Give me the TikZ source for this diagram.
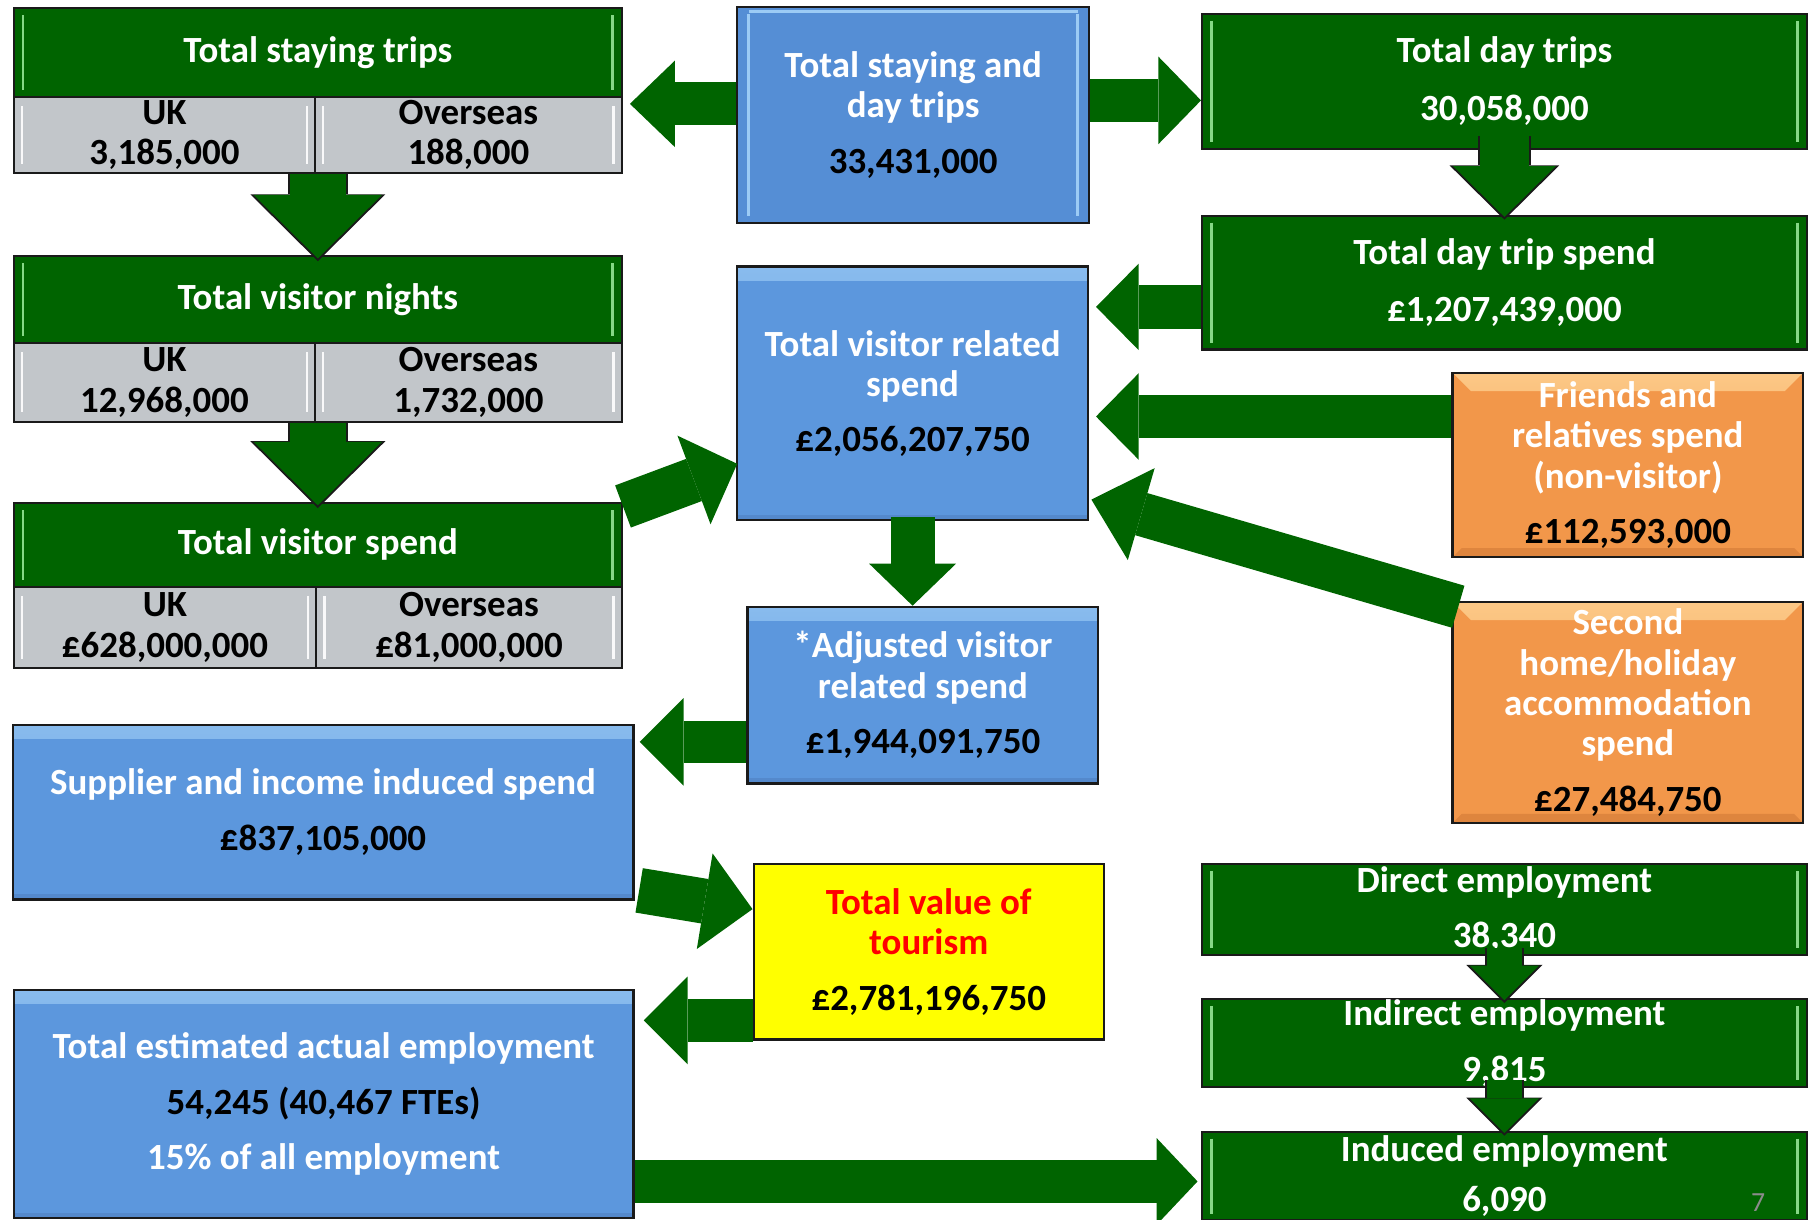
\documentclass[tikz,border=0pt]{standalone}
\usepackage{fontspec}
\setmainfont{Carlito}
\usepackage{xcolor}
\usepackage{tikz}
\usetikzlibrary{arrows.meta,positioning,calc}
\definecolor{cGreen}{HTML}{006400}
\definecolor{cGreenL}{HTML}{86D886}
\definecolor{cBlue}{HTML}{5C97DD}
\definecolor{cBlueD}{HTML}{558ED5}
\definecolor{cBlueL}{HTML}{9CCBF5}
\definecolor{cBlueS}{HTML}{5489CC}
\definecolor{cOrange}{HTML}{F2974A}
\definecolor{cOrangeL}{HTML}{FCC886}
\definecolor{cOrangeD}{HTML}{DE853E}
\definecolor{cGrey}{HTML}{C2C6CA}
\definecolor{cYellow}{HTML}{FFFF00}
\definecolor{cRed}{HTML}{FF0000}
\definecolor{cPage}{HTML}{8C8C8C}
\definecolor{cLine}{HTML}{1A1A1A}
\tikzset{
  base/.style={draw=cLine,line width=1pt,inner sep=0pt,align=center,font=\fontsize{16}{17.5}\selectfont\bfseries},
  sz/.style 2 args={minimum width=#1,minimum height=#2},
  gbox/.style={base,fill=cGreen,text=white,
    path picture={\draw[cGreenL,line width=1pt]
      ([shift={(4pt,-3pt)}]path picture bounding box.north west) -- ([shift={(4pt,3pt)}]path picture bounding box.south west)
      ([shift={(-4pt,-3pt)}]path picture bounding box.north east) -- ([shift={(-4pt,3pt)}]path picture bounding box.south east);}},
  gcell/.style={base,fill=cGrey,text=black,
    path picture={\draw[white!90!cGrey,line width=1.2pt]
      ([shift={(3.5pt,-4pt)}]path picture bounding box.north west) -- ([shift={(3.5pt,4pt)}]path picture bounding box.south west)
      ([shift={(-3.5pt,-4pt)}]path picture bounding box.north east) -- ([shift={(-3.5pt,4pt)}]path picture bounding box.south east);}},
  bbox/.style={base,fill=cBlue,text=white,
    path picture={\shade[top color=cBlueL!70!cBlue,bottom color=cBlue]
      (path picture bounding box.north west) rectangle ([yshift=-6pt]path picture bounding box.north east);
      \fill[cBlueS] ([yshift=2.5pt]path picture bounding box.south west) rectangle (path picture bounding box.south east);}},
  bbox3d/.style={base,fill=cBlueD,text=white,
    path picture={\draw[cBlueL,line width=1.2pt]
      ([shift={(5pt,-3pt)}]path picture bounding box.north west) -- ([shift={(5pt,3pt)}]path picture bounding box.south west)
      ([shift={(-5pt,-3pt)}]path picture bounding box.north east) -- ([shift={(-5pt,3pt)}]path picture bounding box.south east)
      ([shift={(5pt,-2pt)}]path picture bounding box.north west) -- ([shift={(-5pt,-2pt)}]path picture bounding box.north east);}},
  obox/.style={base,fill=cOrange,text=white,
    path picture={\shade[top color=cOrangeL,bottom color=cOrange]
      (path picture bounding box.north west) -- (path picture bounding box.north east)
      -- ([shift={(-8pt,-8pt)}]path picture bounding box.north east) -- ([shift={(8pt,-8pt)}]path picture bounding box.north west) -- cycle;
      \fill[cOrangeD] (path picture bounding box.south west) -- (path picture bounding box.south east)
      -- ([shift={(-4pt,4pt)}]path picture bounding box.south east) -- ([shift={(4pt,4pt)}]path picture bounding box.south west) -- cycle;}},
  ybox/.style={base,fill=cYellow,text=cRed},
  arr/.style args={#1/#2/#3}{draw=cGreen,line width=#1,-{Triangle[width=#2,length=#3,line width=0pt]}},
  arrout/.style args={#1/#2/#3}{draw=cLine,line width=#1,shorten >=-1.2pt,-{Triangle[width=#2,length=#3,line width=0pt]}},
}

\begin{document}
\begin{tikzpicture}[x=0.5pt,y=-0.5pt]
  \useasboundingbox (0,0) rectangle (1568,1057);
  \clip (0,0) rectangle (1568,1057);

  \node[gbox,sz={263.5pt}{38.5pt}] (tst) at (275.5,45.5) {Total staying trips};
  \node[gcell,sz={130.5pt}{33pt}] (tstuk) at (142.5,117) {UK\\3,185,000};
  \node[gcell,sz={133pt}{33pt}] (tstos) at (406,117) {Overseas\\188,000};

  \node[gbox,sz={263.5pt}{37.75pt}] (tvn) at (275.5,259.75) {Total visitor nights};
  \node[gcell,sz={130.5pt}{34pt}] (tvnuk) at (142.5,331.5) {UK\\12,968,000};
  \node[gcell,sz={133pt}{34pt}] (tvnos) at (406,331.5) {Overseas\\1,732,000};

  \node[gbox,sz={263.5pt}{36.3pt}] (tvs) at (275.5,472.3) {Total visitor spend};
  \node[gcell,sz={131pt}{35.2pt}] (tvsuk) at (143,543.8) {UK\\£628,000,000};
  \node[gcell,sz={132.5pt}{35.2pt}] (tvsos) at (406.5,543.8) {Overseas\\£81,000,000};

  \node[bbox3d,sz={152.5pt}{93.5pt}] (sdt) at (791.5,99.5) {Total staying and\\day trips\\[6.5pt]\textcolor{black}{33,431,000}};
  \node[gbox,sz={262pt}{58.5pt}] (tdt) at (1304,70.5) {Total day trips\\[7.5pt]30,058,000};
  \node[gbox,sz={262pt}{58pt}] (dts) at (1304,245) {Total day trip spend\\[7pt]£1,207,439,000};
  \node[bbox,sz={152pt}{110pt}] (tvr) at (791,341) {Total visitor related\\spend\\[6.5pt]\textcolor{black}{£2,056,207,750}};
  \node[obox,sz={152pt}{80pt}] (frs) at (1411,403) {Friends and\\relatives spend\\(non-visitor)\\[6.5pt]\textcolor{black}{£112,593,000}};
  \node[obox,sz={152pt}{96pt}] (shn) at (1411,617.5) {Second\\home/holiday\\accommodation\\spend\\[6.5pt]\textcolor{black}{£27,484,750}};
  \node[bbox,sz={152pt}{76.5pt}] (adj) at (800,602.5) {*Adjusted visitor\\related spend\\[6.5pt]\textcolor{black}{£1,944,091,750}};
  \node[bbox,sz={269pt}{75.75pt}] (sup) at (280,704) {Supplier and income induced spend\\[6.5pt]\textcolor{black}{£837,105,000}};
  \node[ybox,sz={151.75pt}{76pt}] (tvt) at (805,825) {Total value of\\tourism\\[6.5pt]\textcolor{black}{£2,781,196,750}};
  \node[bbox,sz={268.5pt}{99pt}] (tea) at (280.5,957) {Total estimated actual employment\\[6.5pt]\textcolor{black}{54,245 (40,467 FTEs)}\\[6.5pt]15\% of all employment};
  \node[gbox,sz={262pt}{39.5pt}] (dir) at (1304,788.5) {Direct employment\\[6.5pt]38,340};
  \node[gbox,sz={262pt}{38pt}] (indi) at (1304,904) {Indirect employment\\[6.5pt]9,815};
  \node[gbox,sz={262pt}{38.5pt}] (indu) at (1304,1019.5) {Induced employment\\[4pt]6,090};
  \node[font=\fontsize{12}{12}\selectfont,text=cPage] (pgno) at (1524,1042) {7};

  \draw[arr={18.5pt/37.5pt/19.5pt},shorten >=3pt] (sdt.west |- 0,90) -- (tst.east |- 0,90);
  \draw[arr={18.8pt/38pt/18.5pt}] (sdt.east |- 0,87) -- (tdt.west |- 0,87);
  \draw[arr={18.8pt/37.5pt/18.5pt},shorten >=3pt] (dts.west |- 0,266) -- (tvr.east |- 0,266);
  \draw[arr={18.8pt/37.5pt/18.5pt},shorten >=3pt] (frs.west |- 0,361) -- (tvr.east |- 0,361);
  \draw[arr={19pt/41.5pt/22.5pt}] ($(shn.north west)+(3pt,-2.7pt)$) -- ($(tvr.south east)+(1pt,9.5pt)$);
  \draw[arr={19.5pt/41pt/20pt}] ($(tvs.north east)+(0,-2pt)$) -- ($(tvr.south west)+(0.5pt,25pt)$);
  \draw[arr={19pt/37.75pt/18.25pt}] ([yshift=2pt]tvr.south) -- (tvr.south |- adj.north);
  \draw[arr={18.5pt/38pt/19pt},shorten >=2.25pt] (adj.west |- 0,643) -- (sup.east |- 0,643);
  \draw[arr={19.5pt/42pt/21pt}] ($(sup.south east)+(2pt,4.5pt)$) -- ($(tvt.north west)+(0,-20pt)$);
  \draw[arr={18.5pt/38pt/19pt},shorten >=4pt] (tvt.west |- 0,884.5) -- (tea.east |- 0,884.5);
  \draw[arr={18.75pt/37.5pt/17.7pt},shorten >=1.5pt] (tea.east |- 0,1024) -- (indu.west |- 0,1024);

  \draw[arrout={26pt/58.5pt/29pt}] (tst.south |- tstuk.south) -- ([yshift=-1.5pt]tvn.north);
  \draw[arr={24.5pt/55.5pt/27.5pt}] (tst.south |- tstuk.south) -- ([yshift=-1.5pt]tvn.north);
  \draw[arrout={26pt/58.5pt/29pt}] (tvn.south |- tvnuk.south) -- ([yshift=-1.5pt]tvs.north);
  \draw[arr={24.5pt/55.5pt/27.5pt}] (tvn.south |- tvnuk.south) -- ([yshift=-1.5pt]tvs.north);
  \draw[arrout={23pt/47.5pt/23.5pt}] ([yshift=6pt]tdt.south) -- ([yshift=-1pt]dts.north);
  \draw[arr={21.5pt/44.5pt/22pt}] ([yshift=6pt]tdt.south) -- ([yshift=-1pt]dts.north);
  \draw[arrout={16.75pt/33pt/16.5pt}] ([yshift=3.5pt]dir.south) -- ([yshift=-1pt]indi.north);
  \draw[arr={15.25pt/30pt/15pt}] ([yshift=3.5pt]dir.south) -- ([yshift=-1pt]indi.north);
  \draw[arrout={16.75pt/33pt/16.5pt}] ([yshift=3.5pt]indi.south) -- ([yshift=-1pt]indu.north);
  \draw[arr={15.25pt/30pt/15pt}] ([yshift=3.5pt]indi.south) -- ([yshift=-1pt]indu.north);
\end{tikzpicture}
\end{document}
